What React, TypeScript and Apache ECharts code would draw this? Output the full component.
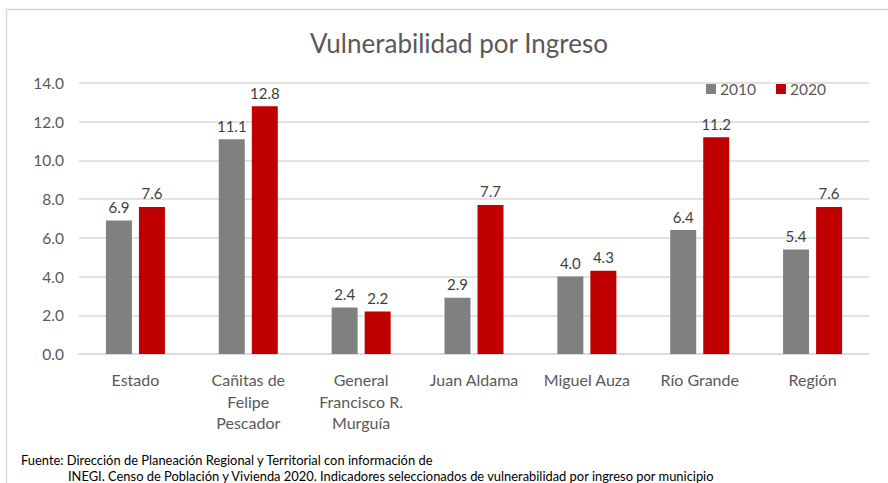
import React, { useEffect, useRef } from "react";
import * as echarts from "echarts";

const categories = [
  "Estado",
  "Cañitas de\nFelipe\nPescador",
  "General\nFrancisco R.\nMurguía",
  "Juan Aldama",
  "Miguel Auza",
  "Río Grande",
  "Región",
];
const values2010 = [6.9, 11.1, 2.4, 2.9, 4.0, 6.4, 5.4];
const values2020 = [7.6, 12.8, 2.2, 7.7, 4.3, 11.2, 7.6];
const seriesNames = ["2010", "2020"];
const titleText = "Vulnerabilidad por Ingreso";
const footerLine1 = "Fuente: Dirección de Planeación Regional y Territorial con información de";
const footerLine2 = "INEGI. Censo de Población y Vivienda 2020. Indicadores seleccionados de vulnerabilidad por ingreso por municipio";

const FONT = "Lato, 'Open Sans', sans-serif";

export default function App() {
  const ref = useRef<HTMLDivElement>(null);
  useEffect(() => {
    document.body.style.margin = "0";
    const chart = echarts.init(ref.current!, null, { renderer: "svg" });
    const labelStyle = {
      show: true,
      position: "top" as const,
      distance: 6,
      color: "#404040",
      fontSize: 15,
      fontFamily: FONT,
      formatter: (p: any) => Number(p.value).toFixed(1),
    };
    chart.setOption({
      animation: false,
      backgroundColor: "#ffffff",
      textStyle: { fontFamily: FONT },
      title: {
        text: titleText,
        left: 454,
        textAlign: "center",
        top: 25,
        textStyle: { fontSize: 26, fontWeight: "normal", color: "#595959", fontFamily: FONT },
      },
      legend: {
        data: seriesNames,
        left: 701,
        top: 76,
        itemWidth: 10,
        itemHeight: 10,
        itemGap: 20,
        itemStyle: { borderWidth: 0 },
        textStyle: { fontSize: 15.5, color: "#595959", fontFamily: FONT, padding: [0, 0, 0, -1] },
        icon: "rect",
      },
      grid: { left: 79, right: 19, top: 83, bottom: 129, containLabel: false },
      xAxis: {
        type: "category",
        data: categories,
        axisLine: { lineStyle: { color: "#d9d9d9", width: 1.5 } },
        axisTick: { show: false },
        axisLabel: {
          color: "#595959",
          fontSize: 16,
          fontFamily: FONT,
          margin: 15,
          lineHeight: 21.5,
          interval: 0,
        },
      },
      yAxis: {
        type: "value",
        min: 0,
        max: 14,
        interval: 2,
        axisLine: { show: false },
        axisTick: { show: false },
        splitLine: { lineStyle: { color: "#d9d9d9", width: 1.5 } },
        axisLabel: {
          color: "#595959",
          fontSize: 15.5,
          fontFamily: FONT,
          margin: 15,
          formatter: (v: number) => v.toFixed(1),
        },
      },
      series: [
        {
          name: seriesNames[0],
          type: "bar",
          data: values2010,
          barWidth: 26,
          barGap: "27%",
          itemStyle: { color: "#808080" },
          label: labelStyle,
        },
        {
          name: seriesNames[1],
          type: "bar",
          data: values2020,
          barWidth: 26,
          barGap: "27%",
          itemStyle: { color: "#c00000" },
          label: labelStyle,
        },
      ],
      graphic: [
        {
          type: "rect",
          shape: { x: 6.5, y: 9.5, width: 900, height: 500 },
          style: { fill: "none", stroke: "#d9d9d9", lineWidth: 1.5 },
          silent: true,
        },
        {
          type: "text",
          left: 21,
          top: 453,
          style: { text: footerLine1, fontSize: 12.9, fill: "#000000", fontFamily: FONT },
        },
        {
          type: "text",
          left: 68,
          top: 469,
          style: { text: footerLine2, fontSize: 12.9, fill: "#000000", fontFamily: FONT },
        },
      ],
    });
    return () => chart.dispose();
  }, []);
  return <div ref={ref} style={{ width: 888, height: 483 }} />;
}
